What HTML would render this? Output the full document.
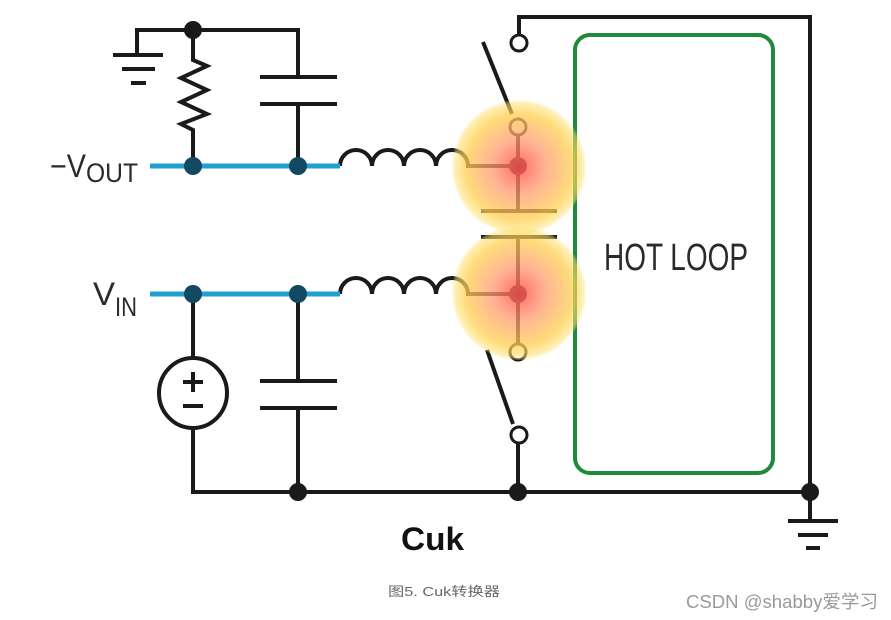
<!DOCTYPE html>
<html><head><meta charset="utf-8"><style>
html,body{margin:0;padding:0;background:#fff;}
svg{display:block;}
</style></head><body>
<svg width="891" height="620" viewBox="0 0 891 620" xmlns="http://www.w3.org/2000/svg">
<defs>
<radialGradient id="g" cx="0.5" cy="0.5" r="0.5">
<stop offset="0" stop-color="#ff5050" stop-opacity="0.85"/>
<stop offset="0.4" stop-color="#ff9a70" stop-opacity="0.75"/>
<stop offset="0.8" stop-color="#ffd050" stop-opacity="0.75"/>
<stop offset="0.95" stop-color="#ffe070" stop-opacity="0.55"/>
<stop offset="1" stop-color="#ffe880" stop-opacity="0.2"/>
</radialGradient>
</defs>
<g stroke="#1a1a1a" stroke-width="4" fill="none" stroke-linecap="butt">
<polyline points="137,55 137,30 298,30 298,77"/>
<line x1="113" y1="55" x2="163" y2="55"/>
<line x1="122" y1="69" x2="155" y2="69"/>
<line x1="131" y1="83" x2="146" y2="83"/>
<polyline points="193,30 193,60 207,66 181,78 207,90 181,102 207,114 181,124 193,130 193,166"/>
<line x1="260" y1="77" x2="337" y2="77"/>
<line x1="260" y1="104" x2="337" y2="104"/>
<line x1="298" y1="104" x2="298" y2="166"/>
<path d="M340,166 a16,16 0 0 1 32,0 a16,16 0 0 1 32,0 a16,16 0 0 1 32,0 a16,16 0 0 1 32,0 L518,166"/>
<path d="M340,294 a16,16 0 0 1 32,0 a16,16 0 0 1 32,0 a16,16 0 0 1 32,0 a16,16 0 0 1 32,0 L518,294"/>
<polyline points="519,35 519,17 810,17 810,492"/>
<line x1="483" y1="42" x2="512" y2="114"/>
<line x1="518" y1="135" x2="518" y2="211"/>
<line x1="481" y1="211" x2="557" y2="211"/>
<line x1="481" y1="237" x2="557" y2="237"/>
<line x1="518" y1="237" x2="518" y2="344"/>
<line x1="487" y1="350" x2="513" y2="424"/>
<line x1="518" y1="443" x2="518" y2="492"/>
<line x1="193" y1="294" x2="193" y2="358"/>
<polyline points="193,428 193,492 810,492"/>
<line x1="298" y1="294" x2="298" y2="381"/>
<line x1="260" y1="381" x2="337" y2="381"/>
<line x1="260" y1="408" x2="337" y2="408"/>
<line x1="298" y1="408" x2="298" y2="492"/>
<ellipse cx="193" cy="393" rx="34" ry="35"/>
<line x1="193" y1="372" x2="193" y2="392"/>
<line x1="183" y1="382" x2="203" y2="382"/>
<line x1="183" y1="406" x2="203" y2="406"/>
<line x1="810" y1="492" x2="810" y2="520"/>
<line x1="788" y1="521" x2="838" y2="521"/>
<line x1="798" y1="535" x2="828" y2="535"/>
<line x1="806" y1="548" x2="820" y2="548"/>
</g>
<g fill="#fff" stroke="#1a1a1a" stroke-width="3">
<circle cx="519" cy="43" r="8"/>
<circle cx="518" cy="127" r="8"/>
<circle cx="518" cy="352" r="8"/>
<circle cx="519" cy="435" r="8"/>
</g>
<g stroke="#1ea0d0" stroke-width="5">
<line x1="150" y1="166" x2="340" y2="166"/>
<line x1="150" y1="294" x2="340" y2="294"/>
</g>
<g fill="#1a1a1a">
<circle cx="193" cy="30" r="9"/>
<circle cx="193" cy="166" r="9" fill="#114a60"/>
<circle cx="298" cy="166" r="9" fill="#114a60"/>
<circle cx="193" cy="294" r="9" fill="#114a60"/>
<circle cx="298" cy="294" r="9" fill="#114a60"/>
<circle cx="518" cy="166" r="9"/>
<circle cx="518" cy="294" r="9"/>
<circle cx="298" cy="492" r="9"/>
<circle cx="518" cy="492" r="9"/>
<circle cx="810" cy="492" r="9"/>
</g>
<rect x="575" y="35" width="198" height="438" rx="15" fill="none" stroke="#1e8a3a" stroke-width="4"/>
<circle cx="519" cy="167" r="67" fill="url(#g)"/>
<circle cx="519" cy="293" r="67" fill="url(#g)"/>
<g font-family="Liberation Sans, sans-serif" fill="#2a2a2a">
<text x="50" y="177" font-size="32" textLength="36" lengthAdjust="spacingAndGlyphs">−V</text>
<text x="86" y="182" font-size="27" textLength="52" lengthAdjust="spacingAndGlyphs">OUT</text>
<text x="93" y="305" font-size="32" textLength="22" lengthAdjust="spacingAndGlyphs">V</text>
<text x="115" y="316" font-size="27" textLength="22" lengthAdjust="spacingAndGlyphs">IN</text>
<text x="604" y="270" font-size="38" textLength="144" lengthAdjust="spacingAndGlyphs">HOT LOOP</text>
<text x="401" y="550" font-size="32" font-weight="bold" fill="#111" textLength="63" lengthAdjust="spacingAndGlyphs">Cuk</text>
</g>
<text x="388" y="596" font-family="Liberation Sans, 'Noto Sans CJK SC', sans-serif" font-size="13" fill="#666" textLength="112" lengthAdjust="spacingAndGlyphs">图5. Cuk转换器</text>
<text x="686" y="608" font-family="Liberation Sans, 'Noto Sans CJK SC', sans-serif" font-size="18" fill="#999" textLength="192" lengthAdjust="spacingAndGlyphs">CSDN @shabby爱学习</text>
</svg>
</body></html>
